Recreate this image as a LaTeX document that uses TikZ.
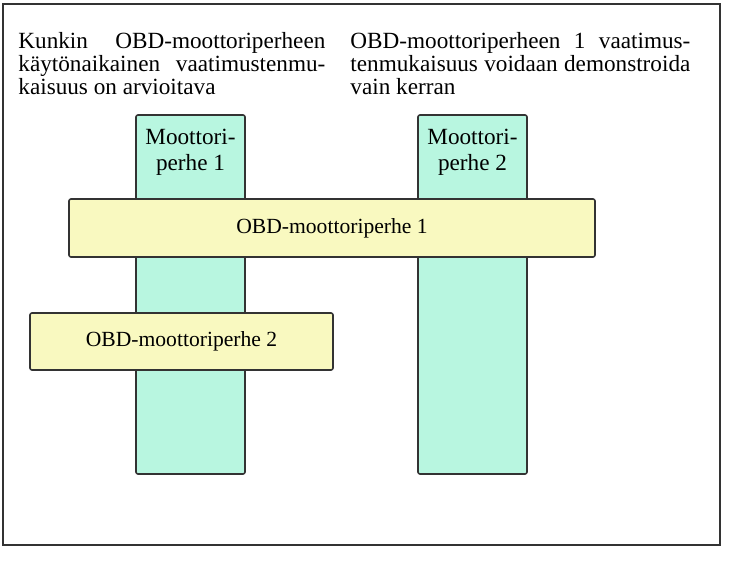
\documentclass[tikz,border=0pt]{standalone}
\usepackage{fontspec}
\setmainfont{Liberation Serif}
\usetikzlibrary{positioning}
\definecolor{colmint}{HTML}{B8F6E0}
\definecolor{baryellow}{HTML}{F9F9C0}
\definecolor{edgegray}{HTML}{333333}
\tikzset{
      famcol/.style={
        draw=edgegray,
        line width=0.8pt,
        fill=colmint,
        rounded corners=1pt,
        minimum width=54.5pt,
        minimum height=179.5pt,
        inner sep=0pt
      },
      obdbar/.style={
        draw=edgegray,
        line width=0.8pt,
        fill=baryellow,
        rounded corners=1pt,
        inner sep=0pt,
        font=\fontsize{10.8}{12}\selectfont
      },
      notetext/.style={
        anchor=north west,
        inner sep=0pt,
        align=justify,
        font=\fontsize{11.6}{11.6}\selectfont
      },
      collabel/.style={
        anchor=north,
        inner sep=0pt,
        align=center,
        font=\fontsize{11.6}{12.8}\selectfont
      }
    }

\begin{document}
\begin{tikzpicture}[x=0.5pt,y=-0.5pt]
    \useasboundingbox (0,0) rectangle (730,562);
    \draw[line width=1pt, draw=edgegray] (3,4) rectangle (720,545);
    \node[notetext, text width=153.5pt] (note1) at (18,32) {Kunkin OBD-moottoriperheen\linebreak käytönaikainen vaatimustenmu-\linebreak kaisuus on arvioitava};
    \node[notetext, text width=170pt] (note2) at (350,32) {OBD-moottoriperheen 1 vaatimus-\linebreak tenmukaisuus voidaan demonstroida\linebreak vain kerran};
    \node[famcol] (col1) at (190.5,294.5) {};
    \node[famcol] (col2) at (472.5,294.5) {};
    \node[collabel, below=7.5pt of col1.north] (lab1) {Moottori-\\perhe 1};
    \node[collabel, below=7.5pt of col2.north] (lab2) {Moottori-\\perhe 2};
    \node[obdbar, minimum width=263pt, minimum height=29pt] (obd1) at (332,228) {OBD-moottoriperhe 1};
    \node[obdbar, minimum width=151.5pt, minimum height=28.5pt] (obd2) at (181.5,341.5) {OBD-moottoriperhe 2};
    \end{tikzpicture}
\end{document}
